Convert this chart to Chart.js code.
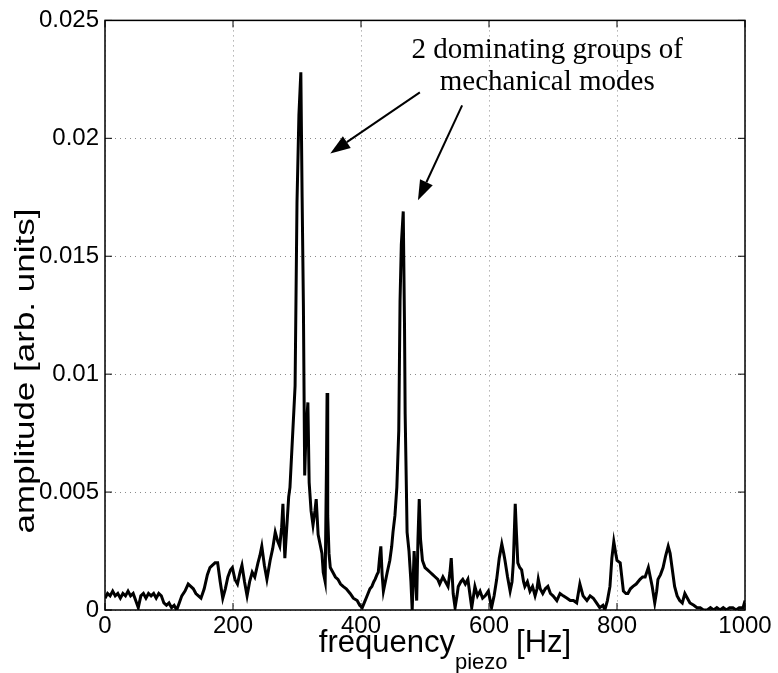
<!DOCTYPE html>
<html>
<head>
<meta charset="utf-8">
<script src="https://cdn.jsdelivr.net/npm/chart.js@4.4.0/dist/chart.umd.min.js"></script>
<style>
  body { margin: 0; background: #fff; }
  canvas { display: block; }
</style>
</head>
<body>
<canvas id="chartCanvas" width="778" height="673"></canvas>
<script>
// spectrum (Hz, arb. units)
const freq = [
  0, 4, 8, 12, 16, 20, 24, 28, 32, 36, 40, 44, 48, 52, 56, 60, 64, 68, 72, 76,
  80, 84, 88, 92, 96, 100, 104, 108, 112, 116, 120, 125, 130, 134, 138, 142, 146, 150, 155, 160,
  164, 168, 172, 176, 180, 184, 188, 192, 196, 199, 203, 207, 211, 214, 218, 222, 226, 230, 234, 239,
  242, 245, 249, 253, 258, 262, 266, 270, 273, 276, 278, 281, 284, 287, 289, 292, 295, 297, 300, 303,
  306, 308, 310, 312, 314, 317, 319, 322, 325, 328, 330, 333, 336, 339, 341, 344, 346, 347, 348, 350,
  352, 356, 360, 364, 368, 372, 377, 383, 388, 394, 398, 402, 405, 408, 411, 414, 417, 420, 422, 425,
  427, 429, 431, 433, 435, 438, 441, 445, 448, 450, 453, 456, 459, 461, 463, 466, 468, 469, 471, 472,
  475, 478, 480, 483, 485, 487, 489, 491, 493, 496, 500, 504, 508, 512, 516, 520, 523, 528, 532, 536,
  539, 541, 544, 547, 550, 552, 556, 559, 563, 567, 570, 573, 578, 582, 586, 590, 594, 599, 604, 608,
  612, 616, 620, 623, 625, 629, 633, 636, 638, 641, 643, 645, 648, 651, 654, 656, 660, 664, 668, 672,
  675, 677, 680, 684, 688, 692, 696, 700, 706, 711, 716, 722, 727, 732, 737, 742, 747, 753, 758, 763,
  768, 773, 778, 781, 785, 789, 792, 795, 798, 800, 805, 810, 814, 817, 821, 825, 830, 836, 840, 844,
  849, 852, 855, 859, 862, 864, 868, 872, 876, 880, 883, 886, 890, 894, 898, 902, 906, 910, 914, 920,
  925, 930, 935, 941, 946, 951, 956, 961, 966, 971, 976, 981, 986, 991, 997, 1000
];
const amplitude = [
  0.0005, 0.0007, 0.0006, 0.0008, 0.0006, 0.0007, 0.0005, 0.0007, 0.0006, 0.0008, 0.0006, 0.0007, 0.0004, 0.0001, 0.0006, 0.0007, 0.0005, 0.0007, 0.0006, 0.0007,
  0.0005, 0.0007, 0.0006, 0.0003, 0.0002, 0.0003, 0.0001, 0.0002, 0.0, 0.0003, 0.0006, 0.0008, 0.0011, 0.001, 0.0009, 0.0007, 0.0006, 0.0005, 0.0009, 0.0015,
  0.0018, 0.0019, 0.002, 0.002, 0.0012, 0.0005, 0.0009, 0.0014, 0.0017, 0.0018, 0.0013, 0.0011, 0.0016, 0.0019, 0.0012, 0.0006, 0.0012, 0.0016, 0.0014, 0.002,
  0.0023, 0.0027, 0.0019, 0.0013, 0.0021, 0.0026, 0.0033, 0.0029, 0.0027, 0.0035, 0.0045, 0.0022, 0.0035, 0.0048, 0.0052, 0.0068, 0.0084, 0.0095, 0.0173, 0.021,
  0.0228, 0.0175, 0.0129, 0.0057, 0.0075, 0.0088, 0.0054, 0.0042, 0.0036, 0.0042, 0.0047, 0.0032, 0.0028, 0.0024, 0.0016, 0.0012, 0.006, 0.0092, 0.004, 0.0024,
  0.0018, 0.0016, 0.0014, 0.0013, 0.0011, 0.001, 0.0009, 0.0007, 0.0005, 0.0004, 0.0002, 0.0001, 0.0003, 0.0005, 0.0007, 0.0009, 0.001, 0.0012, 0.0013, 0.0015,
  0.0016, 0.0022, 0.0027, 0.0015, 0.0008, 0.0012, 0.0016, 0.0021, 0.0027, 0.0033, 0.004, 0.0052, 0.0076, 0.0131, 0.0155, 0.0169, 0.012, 0.0083, 0.005, 0.0033,
  0.0025, 0.0012, 0.0, 0.0025, 0.0015, 0.0004, 0.003, 0.0047, 0.003, 0.0021, 0.0018, 0.0017, 0.0016, 0.0015, 0.0014, 0.0013, 0.0011, 0.0014, 0.0012, 0.001,
  0.0016, 0.0022, 0.0007, 0.0001, 0.0006, 0.001, 0.0012, 0.0013, 0.0011, 0.0013, 0.0007, 0.0001, 0.001, 0.0006, 0.0008, 0.0005, 0.0006, 0.0008, 0.0001, 0.0006,
  0.0013, 0.0022, 0.0028, 0.0024, 0.0021, 0.0014, 0.0008, 0.0012, 0.002, 0.0045, 0.0032, 0.002, 0.0018, 0.0017, 0.0012, 0.001, 0.0012, 0.0008, 0.001, 0.0006,
  0.0009, 0.0013, 0.0009, 0.0007, 0.0009, 0.001, 0.0007, 0.0006, 0.0004, 0.0007, 0.0006, 0.0005, 0.0004, 0.0004, 0.0003, 0.0011, 0.0006, 0.0004, 0.0006, 0.0005,
  0.0003, 0.0001, 0.0002, 0.0, 0.0004, 0.001, 0.0022, 0.0029, 0.0024, 0.0021, 0.002, 0.0008, 0.0007, 0.0007, 0.0009, 0.001, 0.0011, 0.0013, 0.0014, 0.0014,
  0.0018, 0.0014, 0.001, 0.0003, 0.0008, 0.0013, 0.0015, 0.0018, 0.0023, 0.0027, 0.0024, 0.0018, 0.001, 0.0006, 0.0004, 0.0003, 0.0007, 0.0005, 0.0003, 0.0002,
  0.0001, 0.0001, 0.0, 0.0, 0.0001, 0.0, 0.0001, 0.0, 0.0001, 0.0, 0.0001, 0.0001, 0.0, 0.0001, 0.0001, 0.0004
];

const xTicks = [0, 200, 400, 600, 800, 1000];
const yTicks = [0, 0.005, 0.01, 0.015, 0.02, 0.025];
const yTickLabels = ["0", "0.005", "0.01", "0.015", "0.02", "0.025"];

// annotation text and arrows, in data units: [fromX, fromY, toX, toY]
const noteLines = ["2 dominating groups of", "mechanical modes"];
const noteAnchor = [691, 0.02339, 0.02203];
const arrows = [
  [492, 0.02195, 352, 0.01936],
  [558, 0.0214, 489, 0.01737]
];

const sansFamily = "'Liberation Sans', Arial, sans-serif";

const matlabFrame = {
    id: "matlabFrame",
    afterDraw(chart) {
        const ctx = chart.ctx;
        const a = chart.chartArea;
        const xs = chart.scales.x;
        const ys = chart.scales.y;
        ctx.save();
        ctx.strokeStyle = "#000";
        ctx.lineWidth = 1.5;
        ctx.strokeRect(a.left, a.top, a.right - a.left, a.bottom - a.top);
        ctx.lineWidth = 1;
        xTicks.forEach(v => {
            const px = xs.getPixelForValue(v);
            ctx.beginPath();
            ctx.moveTo(px, a.bottom); ctx.lineTo(px, a.bottom - 7);
            ctx.moveTo(px, a.top); ctx.lineTo(px, a.top + 7);
            ctx.stroke();
        });
        yTicks.forEach(v => {
            const py = ys.getPixelForValue(v);
            ctx.beginPath();
            ctx.moveTo(a.left, py); ctx.lineTo(a.left + 7, py);
            ctx.moveTo(a.right, py); ctx.lineTo(a.right - 7, py);
            ctx.stroke();
        });

        // y axis title (a bit condensed, like the original)
        ctx.fillStyle = "#000";
        ctx.font = "35px " + sansFamily;
        ctx.textAlign = "center";
        ctx.textBaseline = "middle";
        ctx.translate(26, 371);
        ctx.rotate(-Math.PI / 2);
        ctx.scale(1, 0.8);
        ctx.fillText("amplitude [arb. units]", 0, 0);
        ctx.restore();

        // x axis title with subscript
        ctx.save();
        ctx.fillStyle = "#000";
        ctx.textBaseline = "alphabetic";
        ctx.textAlign = "left";
        const big = "31px " + sansFamily;
        const small = "22px " + sansFamily;
        ctx.font = big;
        const w1 = ctx.measureText("frequency").width;
        const w3 = ctx.measureText(" [Hz]").width;
        ctx.font = small;
        const w2 = ctx.measureText("piezo").width;
        let x0 = (a.left + a.right) / 2 + 20 - (w1 + w2 + w3) / 2;
        ctx.font = big;
        ctx.fillText("frequency", x0, 652);
        ctx.font = small;
        ctx.fillText("piezo", x0 + w1, 669);
        ctx.font = big;
        ctx.fillText(" [Hz]", x0 + w1 + w2, 652);

        // annotation
        ctx.font = "29px 'Liberation Serif', 'Times New Roman', serif";
        ctx.textAlign = "center";
        const tx = xs.getPixelForValue(noteAnchor[0]);
        ctx.fillText(noteLines[0], tx, ys.getPixelForValue(noteAnchor[1]));
        ctx.fillText(noteLines[1], tx, ys.getPixelForValue(noteAnchor[2]));

        ctx.strokeStyle = "#000";
        ctx.lineWidth = 2;
        arrows.forEach(ar => {
            const x1 = xs.getPixelForValue(ar[0]), y1 = ys.getPixelForValue(ar[1]);
            const x2 = xs.getPixelForValue(ar[2]), y2 = ys.getPixelForValue(ar[3]);
            const ang = Math.atan2(y2 - y1, x2 - x1);
            const hl = 20, hw = 7;
            const bx = x2 - hl * Math.cos(ang), by = y2 - hl * Math.sin(ang);
            ctx.beginPath();
            ctx.moveTo(x1, y1); ctx.lineTo(bx, by);
            ctx.stroke();
            ctx.beginPath();
            ctx.moveTo(x2, y2);
            ctx.lineTo(bx + hw * Math.sin(ang), by - hw * Math.cos(ang));
            ctx.lineTo(bx - hw * Math.sin(ang), by + hw * Math.cos(ang));
            ctx.closePath();
            ctx.fill();
        });
        ctx.restore();
    }
};

const points = freq.map((f, i) => ({ x: f, y: amplitude[i] }));

new Chart(document.getElementById("chartCanvas"), {
    type: "line",
    data: {
        datasets: [{
            data: points,
            borderColor: "#000",
            borderWidth: 3,
            pointRadius: 0,
            tension: 0,
            fill: false
        }]
    },
    options: {
        responsive: false,
        animation: false,
        layout: { padding: { top: 19, right: 33, left: 0, bottom: 0 } },
        plugins: { legend: { display: false }, tooltip: { enabled: false } },
        scales: {
            x: {
                type: "linear",
                min: 0,
                max: 1000,
                afterFit(scale) { scale.height = 63; },
                afterBuildTicks(scale) { scale.ticks = xTicks.map(v => ({ value: v })); },
                ticks: {
                    color: "#000",
                    font: { family: sansFamily, size: 24 },
                    padding: 2,
                    maxRotation: 0,
                    callback: v => String(v)
                },
                grid: {
                    color: "#8a8a8a",
                    lineWidth: 1,
                    tickLength: 0,
                    drawTicks: false
                },
                border: { display: false, dash: [1, 4] }
            },
            y: {
                type: "linear",
                min: 0,
                max: 0.025,
                afterFit(scale) { scale.width = 105; },
                afterBuildTicks(scale) { scale.ticks = yTicks.map(v => ({ value: v })); },
                ticks: {
                    color: "#000",
                    font: { family: sansFamily, size: 24 },
                    padding: 6,
                    callback: (v, i) => yTickLabels[i]
                },
                grid: {
                    color: "#8a8a8a",
                    lineWidth: 1,
                    drawTicks: false
                },
                border: { display: false, dash: [1, 4] }
            }
        }
    },
    plugins: [matlabFrame]
});
</script>
</body>
</html>
